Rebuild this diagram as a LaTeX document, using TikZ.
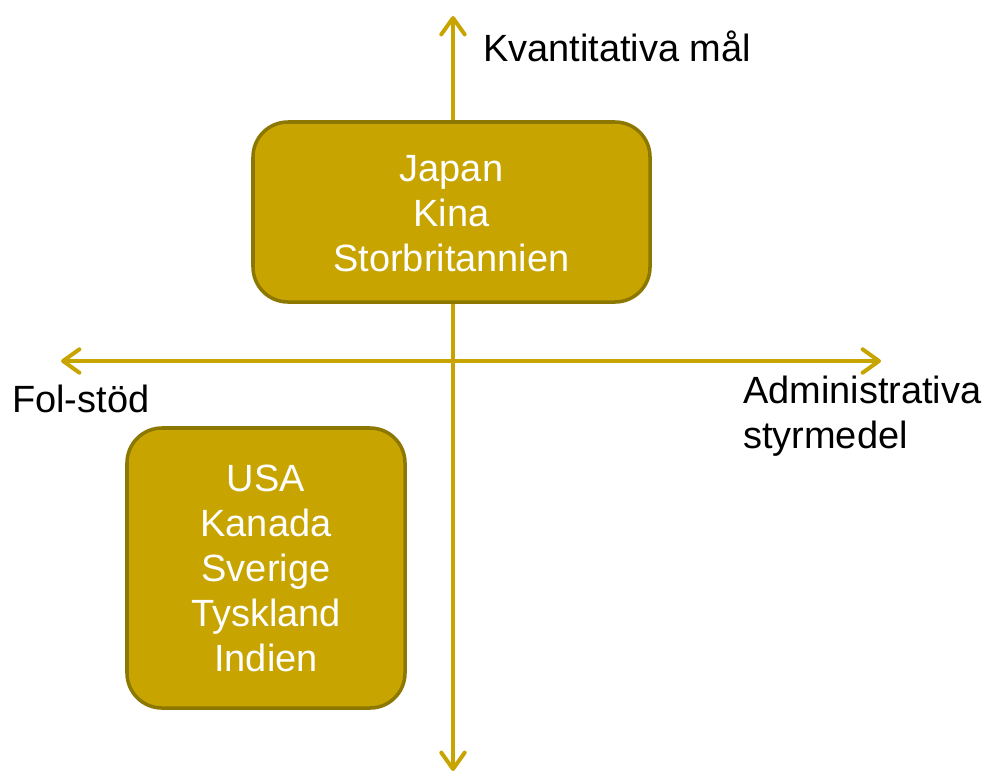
\documentclass[tikz,border=0pt]{standalone}
\usepackage{fontspec}
\setmainfont{Liberation Sans}
\usetikzlibrary{arrows.meta}
\definecolor{axisgold}{HTML}{C8A400}
\definecolor{boxedge}{HTML}{8C7800}
\begin{document}
\begin{tikzpicture}[x=0.03cm, y=-0.03cm,
    every node/.style={font=\fontsize{32.4}{38.4}\selectfont},
    axis/.style={draw=axisgold, line width=3.4pt, line cap=round,
        arrows={Straight Barb[round, length=14pt, width=20pt]-Straight Barb[round, length=14pt, width=20pt]}},
    countrybox/.style={draw=boxedge, line width=3pt, fill=axisgold, rounded corners=1.05cm,
        text=white, align=center, inner sep=0pt}]
    \useasboundingbox (0,0) rectangle (987,777);

    % --- Draw axes ---
    \coordinate (top) at (453,16);
    \coordinate (bottom) at (453,771);
    \coordinate (left) at (61,361);
    \coordinate (right) at (881,361);
    \draw[axis] (bottom) -- (top);
    \draw[axis] (left) -- (right);
    % ---

    % --- Axis labels ---
    \node[anchor=west] (quant) at (479,46) {Kvantitativa mål};
    \node[anchor=west] (fol) at (8,399) {Fol-stöd};
    \node[anchor=west, align=left] (admin) at (739,416) {Administrativa\\styrmedel};
    % ---

    % --- Country groups ---
    \node[countrybox, minimum width=11.91cm, minimum height=5.4cm] (upper) at (451.5,212)
        {};
    \node[white, align=center] (uppertext) at (451.5,214) {Japan\\Kina\\Storbritannien};
    \node[countrybox, minimum width=8.34cm, minimum height=8.4cm] (lower) at (266,568)
        {USA\\Kanada\\Sverige\\Tyskland\\Indien};
    % ---
\end{tikzpicture}
\end{document}
